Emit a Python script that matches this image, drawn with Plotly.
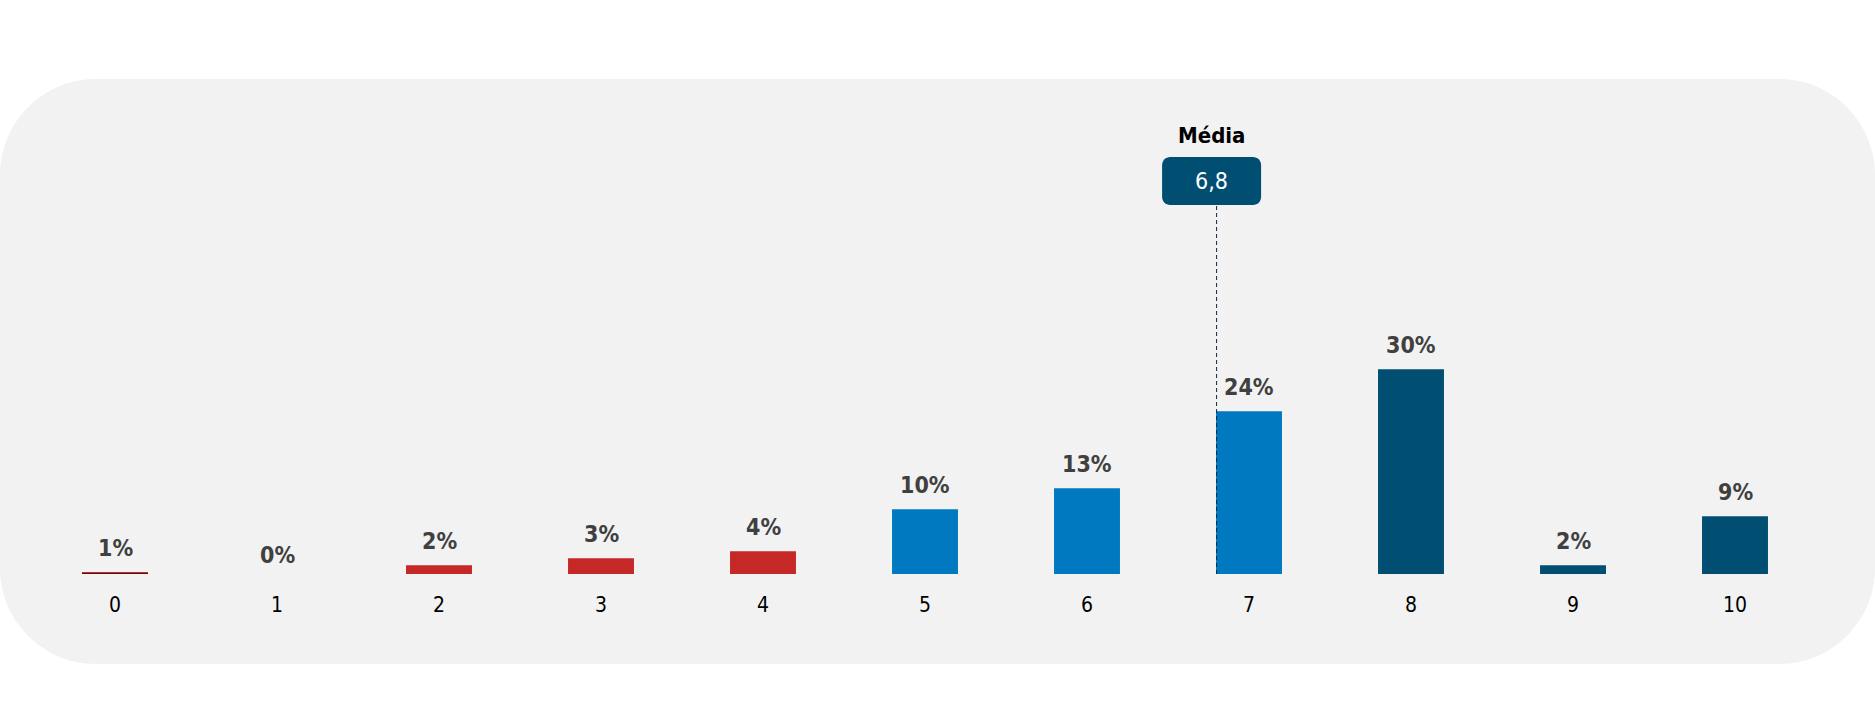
import plotly.graph_objects as go

# === DATA ===
SCORES = [0, 1, 2, 3, 4, 5, 6, 7, 8, 9, 10]
PERCENTS = [1, 0, 2, 3, 4, 10, 13, 24, 30, 2, 9]
BAR_COLORS = ["#7f0000", "#7f0000", "#c62828", "#c62828", "#c62828",
              "#0079c1", "#0079c1", "#0079c1",
              "#004f73", "#004f73", "#004f73"]
MEAN = 6.8
MEAN_LABEL = "Média"

# === LAYOUT CONSTANTS ===
W, H = 1875, 721
ML, MR, MT, MB = 34, 59, 80, 147
PW, PH = W - ML - MR, H - MT - MB
PX_PER_PCT = 7.0
Y_MIN = 0.76          # axis starts a little above zero, like the original
LABEL_SHIFT = 24
PANEL_BG = "#f2f2f2"
FONT = "DejaVu Sans Condensed, DejaVu Sans"


def paper_x(px):
    return (px - ML) / PW


def paper_y(py):
    return (H - MB - py) / PH


def rounded_rect(px0, py0, px1, py1, r):
    # pixel box -> svg path in paper coords, corners drawn as cubic arcs
    k = 0.5523
    x0, x1 = paper_x(px0), paper_x(px1)
    y1, y0 = paper_y(py0), paper_y(py1)
    rx, ry = r / PW, r / PH
    return (
        f"M {x0 + rx},{y0} L {x1 - rx},{y0} "
        f"C {x1 - rx + k * rx},{y0} {x1},{y0 + ry - k * ry} {x1},{y0 + ry} "
        f"L {x1},{y1 - ry} "
        f"C {x1},{y1 - ry + k * ry} {x1 - rx + k * rx},{y1} {x1 - rx},{y1} "
        f"L {x0 + rx},{y1} "
        f"C {x0 + rx - k * rx},{y1} {x0},{y1 - ry + k * ry} {x0},{y1 - ry} "
        f"L {x0},{y0 + ry} "
        f"C {x0},{y0 + ry - k * ry} {x0 + rx - k * rx},{y0} {x0 + rx},{y0} Z"
    )


fig = go.Figure()
fig.add_trace(go.Bar(
    x=SCORES,
    y=PERCENTS,
    width=0.407,
    marker=dict(color=BAR_COLORS, line=dict(width=0)),
    hoverinfo="skip",
))

y_max = Y_MIN + PH / PX_PER_PCT

# value labels above the bars (values under the axis start are anchored at it)
annotations = []
for s, v in zip(SCORES, PERCENTS):
    anchor = max(v, Y_MIN)
    annotations.append(dict(
        x=s, y=anchor, xref="x", yref="y", text=f"<b>{v}%</b>", showarrow=False,
        xanchor="center", yanchor="middle",
        yshift=LABEL_SHIFT - (anchor - v) * PX_PER_PCT,
        font=dict(family=FONT, size=23, color="#404040")))

# mean marker: box position in pixels
mean_px = ML + (MEAN + 0.5) / 11 * PW
box_cx = mean_px - 5
box_w, box_top, box_bot = 99, 157, 205

shapes = [
    dict(type="path", xref="paper", yref="paper", layer="below",
         path=rounded_rect(0, 79, W, 664, 96),
         fillcolor=PANEL_BG, line=dict(width=0)),
    dict(type="line", xref="x", yref="paper",
         x0=MEAN, x1=MEAN, y0=0, y1=paper_y(box_bot),
         line=dict(color="#10263d", width=1, dash="4px,3px")),
    dict(type="path", xref="paper", yref="paper",
         path=rounded_rect(box_cx - box_w / 2, box_top, box_cx + box_w / 2, box_bot, 8),
         fillcolor="#004f73", line=dict(width=0)),
]

annotations += [
    dict(x=paper_x(box_cx), xref="paper", y=paper_y(136), yref="paper",
         text=f"<b>{MEAN_LABEL}</b>", showarrow=False,
         xanchor="center", yanchor="middle",
         font=dict(family=FONT, size=22, color="#000000")),
    dict(x=paper_x(box_cx), xref="paper", y=paper_y((box_top + box_bot) / 2), yref="paper",
         text=f"{MEAN}".replace(".", ","), showarrow=False,
         xanchor="center", yanchor="middle",
         font=dict(family=FONT, size=23, color="#ffffff")),
]

fig.update_layout(
    width=W, height=H,
    margin=dict(l=ML, r=MR, t=MT, b=MB),
    paper_bgcolor="#ffffff",
    plot_bgcolor="rgba(0,0,0,0)",
    showlegend=False,
    shapes=shapes,
    annotations=annotations,
    font=dict(family=FONT),
    xaxis=dict(range=[-0.5, 10.5], tickvals=SCORES, ticktext=[str(s) for s in SCORES],
               showgrid=False, zeroline=False, showline=False,
               ticks="outside", ticklen=12, tickcolor="rgba(0,0,0,0)",
               tickfont=dict(family=FONT, size=21, color="#000000"), fixedrange=True),
    yaxis=dict(range=[Y_MIN, y_max], visible=False, fixedrange=True),
)

fig.write_html("out.html", config={"displayModeBar": False},
               post_script="document.body.style.margin='0px';")
